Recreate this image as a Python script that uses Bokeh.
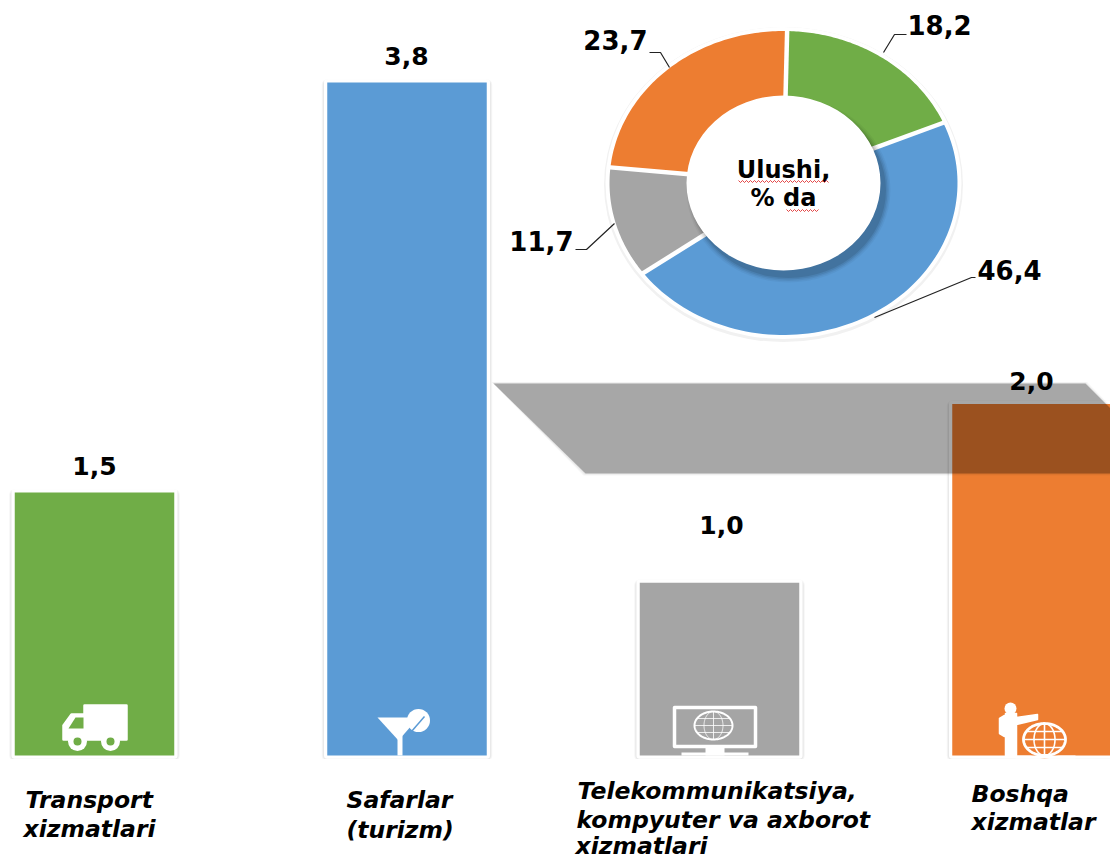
import numpy as np
from bokeh.plotting import figure
from bokeh.models import Range1d, ColumnDataSource
from bokeh.core.properties import value
from bokeh.embed import file_html
from bokeh.resources import INLINE

# ---- data ----
categories = ["Transport xizmatlari", "Safarlar (turizm)",
              "Telekommunikatsiya, kompyuter va axborot xizmatlari", "Boshqa xizmatlar"]
bar_values = [1.485, 3.80, 0.975, 1.985]
bar_labels = ["1,5", "3,8", "1,0", "2,0"]
bar_colors = ["#70AD47", "#5B9BD5", "#A5A5A5", "#ED7D31"]

share_values = [18.2, 46.4, 11.7, 23.7]
share_labels = ["18,2", "46,4", "11,7", "23,7"]
share_colors = ["#70AD47", "#5B9BD5", "#A5A5A5", "#ED7D31"]

FONT = "DejaVu Sans"
W, H = 1110, 859
PAD = 0

# category position -> reference pixel: 94 + 312.5 i ; value -> 755 - 177.1 v
x_left = -(94 - PAD) / 312.5
x_right = x_left + W / 312.5
y_top = (755 - PAD) / 177.1
y_bottom = y_top - H / 177.1

p = figure(width=W, height=H, output_backend="svg", toolbar_location=None,
           x_range=Range1d(x_left, x_right), y_range=Range1d(y_bottom, y_top),
           min_border=0, min_border_left=0, min_border_right=0, min_border_top=0, min_border_bottom=0,
           outline_line_color=None, background_fill_color="white", border_fill_color="white")
p.xaxis.visible = False
p.yaxis.visible = False
p.grid.visible = False

# second coordinate system: picture pixels, for decoration and annotation
p.extra_x_ranges["px"] = Range1d(PAD, PAD + W)
p.extra_y_ranges["px"] = Range1d(PAD + H, PAD)
P = dict(x_range_name="px", y_range_name="px")

# ---- bars ----
src = ColumnDataSource(dict(x=list(range(4)), top=bar_values, frame_top=[v - 0.012 for v in bar_values],
                            color=bar_colors))
BW = 159.5 / 312.5
p.vbar(x="x", top="frame_top", bottom=0, width=BW, source=src, fill_color="white",
       line_color="#f6f6f6", line_width=11, line_join="round")
p.vbar(x="x", top="frame_top", bottom=0, width=BW, source=src, fill_color="white",
       line_color="#e9e9e9", line_width=9, line_join="round")
p.vbar(x="x", top="top", bottom=0, width=BW, source=src, fill_color="white",
       line_color="white", line_width=6.5, line_join="round")
p.vbar(x="x", top="top", bottom=0, width=BW, source=src, fill_color="color", line_color=None)
p.quad(left=[PAD], right=[PAD + W], top=[758.5], bottom=[765], fill_color="white", line_color=None, **P)

# ---- icons ----
WHITE = "white"
def globe(cx, cy, rx, ry, lw, color=WHITE):
    t = np.linspace(0, 2 * np.pi, 80)
    p.line(cx + rx * np.cos(t), cy + ry * np.sin(t), line_color=color, line_width=lw + 1.2, **P)
    p.line(cx + 0.5 * rx * np.cos(t), cy + ry * np.sin(t), line_color=color, line_width=lw, **P)
    p.line([cx, cx], [cy - ry, cy + ry], line_color=color, line_width=lw, **P)
    for k in (-0.5, 0, 0.5):
        hw = rx * np.sqrt(1 - k * k)
        p.line([cx - hw, cx + hw], [cy + k * ry, cy + k * ry], line_color=color, line_width=lw, **P)

# truck
p.patches([[84, 126, 126, 84], [63, 63, 71, 84, 84]], [[705, 705, 739, 739], [739, 725, 714, 714, 739]],
          fill_color=WHITE, line_color=WHITE, line_width=2.5, line_join="round", **P)
p.patch([68, 75, 83, 83, 68], [728, 717, 717, 728, 728], fill_color="#70AD47", line_color=None, **P)
for cx in (77, 110):
    p.ellipse([cx], [741], width=19, height=19, fill_color=WHITE, line_color=None, **P)
    p.ellipse([cx], [741], width=8, height=8, fill_color="#70AD47", line_color=None, **P)

# cocktail
p.ellipse([418], [720], width=23, height=23, fill_color=WHITE, line_color=None, **P)
p.patch([377, 418, 398], [717, 717, 740], fill_color=WHITE, line_color=None, **P)
p.quad(left=[397], right=[402], top=[735], bottom=[755], fill_color=WHITE, line_color=None, **P)
p.line([411, 424], [731, 716], line_color="#5B9BD5", line_width=1.5, **P)

# monitor
p.quad(left=[705], right=[724], top=[746], bottom=[755], fill_color=WHITE, line_color=None, **P)
p.quad(left=[681], right=[748], top=[752], bottom=[755], fill_color=WHITE, line_color=None, **P)
p.patch([674, 755, 755, 674], [707, 707, 746, 746], fill_color="#A5A5A5", line_color=WHITE, line_width=3.5,
        line_join="round", **P)
globe(713, 725, 19, 14, 0.8)

# person and globe
p.ellipse([1010], [708], width=12, height=12, fill_color=WHITE, line_color=None, **P)
p.patches([[1005, 1016, 1016, 1037, 1037, 1016, 1016, 1005], [999, 1004, 1004, 999]],
          [[713, 713, 717, 714, 719, 724, 755, 755], [718, 715, 736, 733]],
          fill_color=WHITE, line_color=WHITE, line_width=1.5, line_join="round", **P)
p.ellipse([1044], [739], width=48, height=38, fill_color="#ED7D31", line_color=None, **P)
globe(1044, 739, 21, 16, 1.6)
p.quad(left=[1015], right=[1075], top=[755], bottom=[758], fill_color="white", line_color=None, **P)

# ---- shadow band (over the bars, darkens what lies below) ----
band_x = [493, 1085, 1125, 1125, 585]
band_y = [383, 383, 423, 473, 473]
p.patch([491, 1086.5, 1125, 1125, 583], [381.5, 381.5, 421, 475, 475], fill_color="black",
        fill_alpha=0.04, line_color=None, **P)
p.patch([492, 1085.5, 1125, 1125, 584], [382.3, 382.3, 422, 474, 474], fill_color="black",
        fill_alpha=0.05, line_color=None, **P)
p.patch(band_x, band_y, fill_color="black", fill_alpha=0.28, line_color=None, **P)

# ---- value labels ----
p.text([94, 406, 721, 1031], [465.5, 55.5, 524.5, 380.5], text=bar_labels, text_font=value(FONT),
       text_font_style="bold", text_font_size="25px", text_color="black",
       text_align="center", text_baseline="middle", **P)

# ---- category labels ----
cat_lines = ["Transport", "xizmatlari", "Safarlar", "(turizm)", "Telekommunikatsiya,",
             "kompyuter va axborot", "xizmatlari", "Boshqa", "xizmatlar"]
cat_x = [25, 23, 346, 346, 577, 576, 575, 971, 971]
cat_y = [799, 828, 799, 829, 790, 819, 845, 793, 821]
p.text(cat_x, cat_y, text=cat_lines, text_font=value(FONT), text_font_style="bold italic",
       text_font_size="23.5px", text_color="black", text_align="left", text_baseline="middle", **P)

# ---- doughnut, from the shares ----
CX, CY, RX, RY = 783, 182.5, 174, 152
HX, HY = 97, 87.5
START = np.deg2rad(1.2)

def ring(a0, a1, rx0, ry0, rx1, ry1):
    t = np.linspace(a0, a1, 90)
    xs = np.concatenate([CX + rx1 * np.sin(t), CX + rx0 * np.sin(t[::-1])])
    ys = np.concatenate([CY - ry1 * np.cos(t), CY - ry0 * np.cos(t[::-1])])
    return xs, ys

p.ellipse([CX], [CY + 1.5], width=2 * RX + 11, height=2 * RY + 11, fill_color="#f1f1f1", line_color=None, **P)
p.ellipse([CX], [CY], width=2 * RX + 8, height=2 * RY + 8, fill_color="white", line_color=None, **P)

edges = START + 2 * np.pi * np.concatenate([[0], np.cumsum(share_values)]) / np.sum(share_values)
xs, ys = [], []
for a0, a1 in zip(edges[:-1], edges[1:]):
    x_, y_ = ring(a0, a1, HX - 3, HY - 3, RX, RY)
    xs.append(x_)
    ys.append(y_)
p.patches(xs, ys, fill_color=share_colors, line_color=None, **P)
for a in edges[:-1]:
    p.line([CX + (HX - 5) * np.sin(a), CX + (RX + 3) * np.sin(a)],
           [CY - (HY - 5) * np.cos(a), CY - (RY + 3) * np.cos(a)],
           line_color="white", line_width=4.5, **P)

# hole shadow and hole
for grow, alpha in ((10, 0.04), (7, 0.06), (4, 0.08), (1, 0.10)):
    p.ellipse([CX + 5], [CY + 7], width=2 * HX + grow, height=2 * HY + grow, fill_color="black",
              fill_alpha=alpha, line_color=None, **P)
p.ellipse([CX], [CY], width=2 * HX, height=2 * HY, fill_color="white", line_color=None, **P)

# leaders
lead_x = [[883, 894, 906], [874, 971, 975], [614, 586, 575], [669, 660, 649]]
lead_y = [[52, 34, 34], [317, 277, 277], [223, 249, 249], [67, 52, 52]]
p.multi_line(lead_x, lead_y, line_color="#222222", line_width=1.2, **P)

p.text([907, 977, 573, 647], [24, 269, 240, 39], text=share_labels, text_font=value(FONT),
       text_font_style="bold", text_font_size="26px", text_color="black",
       text_align=["left", "left", "right", "right"], text_baseline="middle", **P)

# centre title
p.text([783, 783], [169, 197], text=["Ulushi,", "% da"], text_font=value(FONT), text_font_style="bold",
       text_font_size="24px", text_color="black", text_align="center", text_baseline="middle", **P)

# spell-check squiggles
for x0, x1, yy in ((738, 828, 181), (786, 818, 210)):
    sx = np.arange(x0, x1 + 1, 2)
    sy = yy + np.where(np.arange(len(sx)) % 2 == 0, -1, 1)
    p.line(sx, sy, line_color="#e03030", line_width=0.9, **P)

open("out.html", "w").write(file_html(p, INLINE))
